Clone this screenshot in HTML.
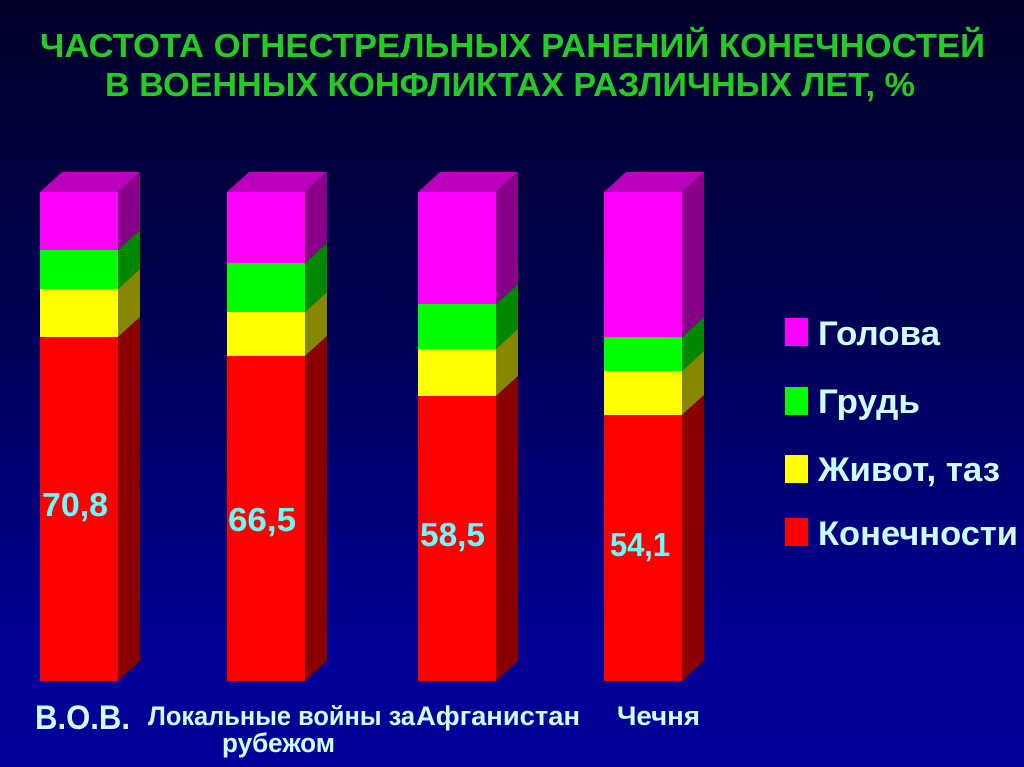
<!DOCTYPE html><html><head><meta charset="utf-8"><style>
body{margin:0;width:1024px;height:767px;overflow:hidden;background:linear-gradient(#000028 0%,#000050 40%,#000090 80%,#000099 100%);font-family:"Liberation Sans",sans-serif}
</style></head><body>
<svg width="1024" height="767" style="position:absolute;left:0;top:0" font-family="Liberation Sans, sans-serif" font-weight="bold">
<text x="40" y="57" textLength="945" lengthAdjust="spacingAndGlyphs" fill="#22cc22" font-size="33">ЧАСТОТА ОГНЕСТРЕЛЬНЫХ РАНЕНИЙ КОНЕЧНОСТЕЙ</text>
<text x="105" y="96" textLength="810" lengthAdjust="spacingAndGlyphs" fill="#22cc22" font-size="33">В ВОЕННЫХ КОНФЛИКТАХ РАЗЛИЧНЫХ ЛЕТ, %</text>
<g id="bars"></g>
<g font-size="34" fill="#ccffff">
<rect x="785" y="318" width="23" height="28" fill="#ff00ff"/><text x="818" y="345" textLength="122" lengthAdjust="spacingAndGlyphs">Голова</text>
<rect x="785" y="387" width="23" height="28" fill="#00ff00"/><text x="818" y="413" textLength="102" lengthAdjust="spacingAndGlyphs">Грудь</text>
<rect x="785" y="455" width="23" height="28" fill="#ffff00"/><text x="818" y="481" textLength="182" lengthAdjust="spacingAndGlyphs">Живот, таз</text>
<rect x="785" y="518" width="23" height="28" fill="#ff0000"/><text x="818" y="545" textLength="200" lengthAdjust="spacingAndGlyphs">Конечности</text>
</g>
<g fill="#ccffff">
<text x="35" y="729" font-size="34" textLength="95" lengthAdjust="spacingAndGlyphs">В.О.В.</text>
<text x="148" y="725" font-size="27" textLength="267" lengthAdjust="spacingAndGlyphs">Локальные войны за</text>
<text x="222" y="752" font-size="27" textLength="113" lengthAdjust="spacingAndGlyphs">рубежом</text>
<text x="416" y="725" font-size="27" textLength="164" lengthAdjust="spacingAndGlyphs">Афганистан</text>
<text x="617" y="725" font-size="27" textLength="83" lengthAdjust="spacingAndGlyphs">Чечня</text>
</g>
</svg>
<script>
const bars=[[40,[192,250,289,337,681],"70,8",42,516,66],[227,[192,263,312,356,681],"66,5",228,531,68],[418,[192,304,349,396,681],"58,5",420,546,65],[604,[192,337,371,415,681],"54,1",610,556,60]];
const F=["#ff00ff","#00ff00","#ffff00","#ff0000"],S=["#880088","#008800","#888800","#880000"];
let h="";
for(const [x,ys,lab,lx,ly,lw] of bars){const w=78,d=22,e=20;
h+=`<polygon points="${x},${ys[0]} ${x+d},${ys[0]-e} ${x+w+d},${ys[0]-e} ${x+w},${ys[0]}" fill="#bb00bb"/>`;
for(let i=0;i<4;i++){h+=`<rect x="${x}" y="${ys[i]}" width="${w}" height="${ys[i+1]-ys[i]}" fill="${F[i]}"/>`;
h+=`<polygon points="${x+w},${ys[i]} ${x+w+d},${ys[i]-e} ${x+w+d},${ys[i+1]-e} ${x+w},${ys[i+1]}" fill="${S[i]}"/>`;}
h+=`<text x="${lx}" y="${ly}" textLength="${lw}" lengthAdjust="spacingAndGlyphs" font-size="33" fill="#66ffff">${lab}</text>`;}
document.getElementById("bars").innerHTML=h;
</script>
</body></html>
